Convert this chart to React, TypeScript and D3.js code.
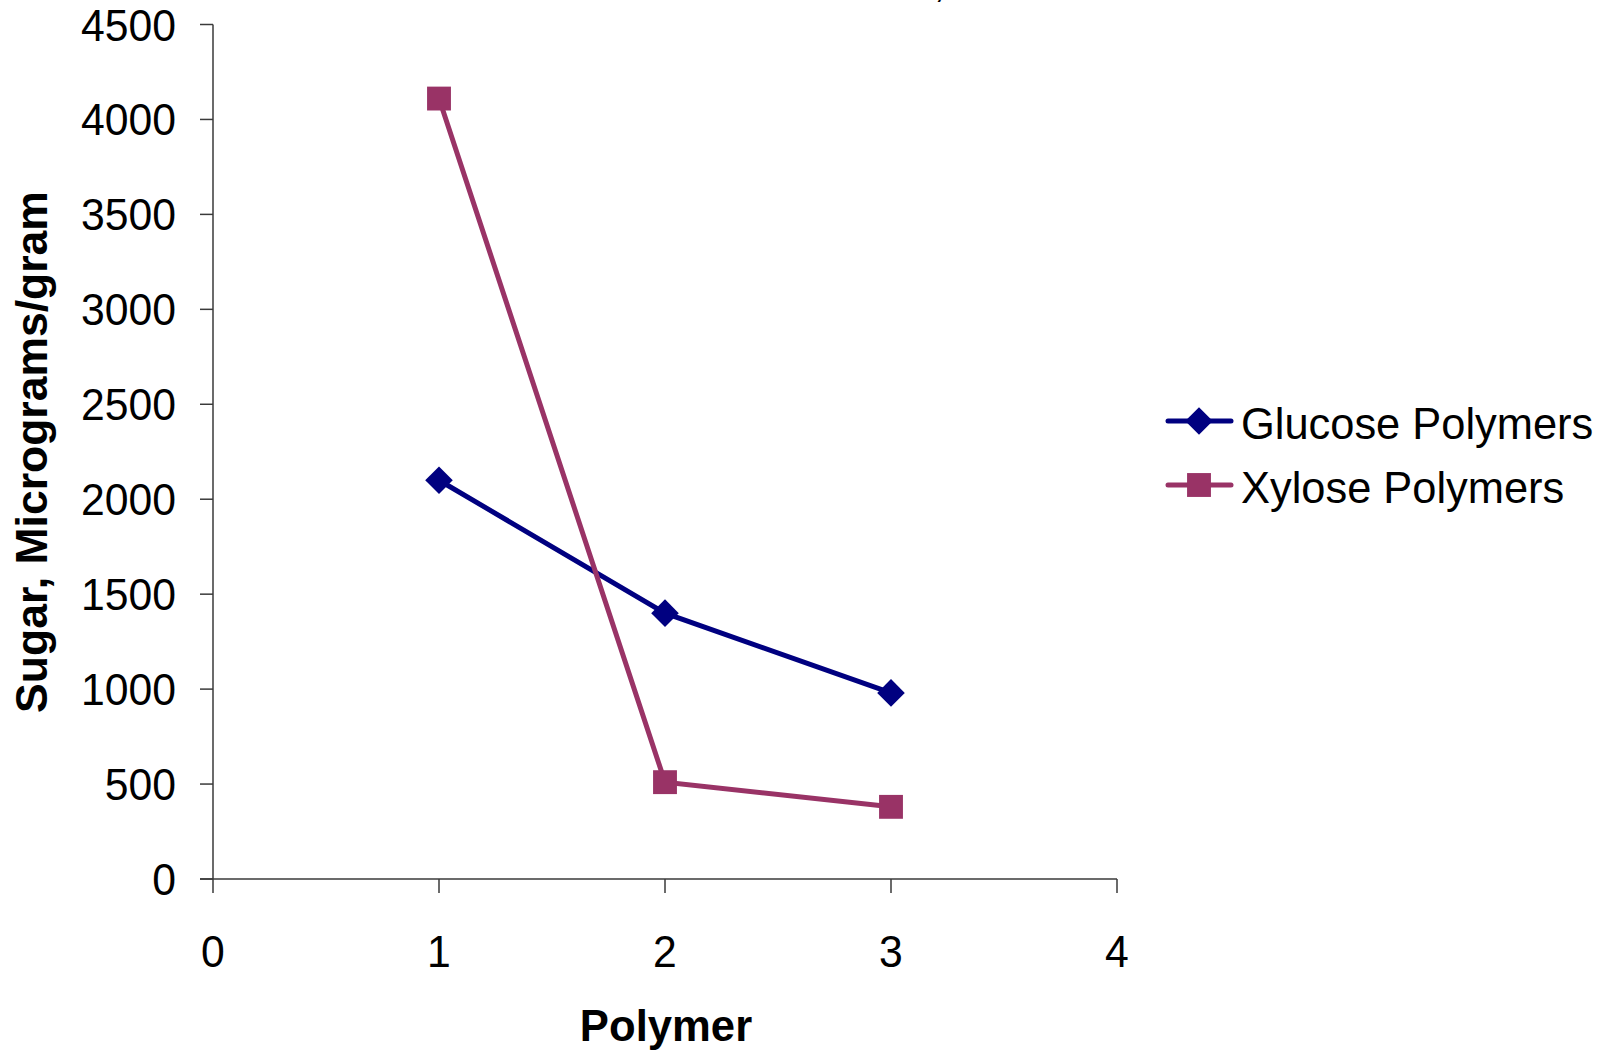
import React from "react";
import * as d3 from "d3";

const polymers = [1, 2, 3];
const glucose = [2100, 1400, 980];
const xylose = [4110, 510, 380];
const xTicks = [0, 1, 2, 3, 4];
const yTicks = [0, 500, 1000, 1500, 2000, 2500, 3000, 3500, 4000, 4500];
const seriesNames = ["Glucose Polymers", "Xylose Polymers"];
const seriesColors = ["#000080", "#993366"];

const W = 1602;
const H = 1051;
const FONT = "'Liberation Sans', Arial, sans-serif";

function T({ x, y, anchor = "start", size = 44, weight = "normal", sx = 1, children }: any) {
  return (
    <text
      transform={`translate(${x},${y}) scale(${sx},1)`}
      textAnchor={anchor}
      fontFamily={FONT}
      fontSize={size}
      fontWeight={weight}
      fill="#000"
    >
      {children}
    </text>
  );
}

export default function App() {
  const x = d3.scaleLinear().domain([0, 4]).range([213, 1117]);
  const y = d3.scaleLinear().domain([0, 4500]).range([879, 24.5]);
  const line = d3
    .line<number>()
    .x((_, i) => x(polymers[i]))
    .y((d) => y(d));
  const diamond = d3.symbol().type(d3.symbolSquare).size(380)()!;
  const square = d3.symbol().type(d3.symbolSquare).size(570)()!;
  const axisColor = "#3a3a3a";
  const series = [glucose, xylose];
  const markers = [diamond, square];
  const rot = [45, 0];

  return (
    <svg
      width={W}
      height={H}
      style={{ position: "fixed", left: 0, top: 0, background: "#fff" }}
    >
      <rect x={0} y={0} width={W} height={H} fill="#fff" />
      <text x={934} y={-3} fontFamily={FONT} fontSize={40} fill="#000">,</text>
      {/* axes */}
      <line x1={x(0)} x2={x(0)} y1={y(4500)} y2={y(0)} stroke={axisColor} strokeWidth={1.5} />
      <line x1={x(0) - 13} x2={x(4)} y1={y(0)} y2={y(0)} stroke={axisColor} strokeWidth={1.5} />
      {yTicks.map((t) => (
        <g key={"y" + t}>
          <line x1={x(0) - 13} x2={x(0)} y1={y(t)} y2={y(t)} stroke={axisColor} strokeWidth={1.5} />
          <T x={176} y={y(t) + 16} anchor="end" size={45} sx={0.95}>{t}</T>
        </g>
      ))}
      {xTicks.map((t) => (
        <g key={"x" + t}>
          <line x1={x(t)} x2={x(t)} y1={y(0)} y2={y(0) + 14} stroke={axisColor} strokeWidth={1.5} />
          <T x={x(t)} y={967} anchor="middle" size={45} sx={0.95}>{t}</T>
        </g>
      ))}
      <T x={666} y={1041} anchor="middle" weight="bold" size={45} sx={0.97}>Polymer</T>
      <text
        transform={`translate(47,452) rotate(-90)`}
        textAnchor="middle"
        fontFamily={FONT}
        fontSize={44.5}
        fontWeight="bold"
        fill="#000"
      >
        Sugar, Micrograms/gram
      </text>
      {/* series */}
      {series.map((s, k) => (
        <g key={"s" + k}>
          <path d={line(s)!} fill="none" stroke={seriesColors[k]} strokeWidth={5} />
          {s.map((v, i) => (
            <path
              key={i}
              d={markers[k]}
              transform={`translate(${x(polymers[i])},${y(v)}) rotate(${rot[k]})`}
              fill={seriesColors[k]}
            />
          ))}
        </g>
      ))}
      {/* legend */}
      {seriesNames.map((n, k) => {
        const ly = 421 + k * 64;
        return (
          <g key={"l" + k}>
            <line x1={1168} x2={1231} y1={ly} y2={ly} stroke={seriesColors[k]} strokeWidth={5} strokeLinecap="round" />
            <path d={markers[k]} transform={`translate(1199,${ly}) rotate(${rot[k]})`} fill={seriesColors[k]} />
            <T x={1241} y={ly + 18} size={45} sx={0.965}>{n}</T>
          </g>
        );
      })}
    </svg>
  );
}
